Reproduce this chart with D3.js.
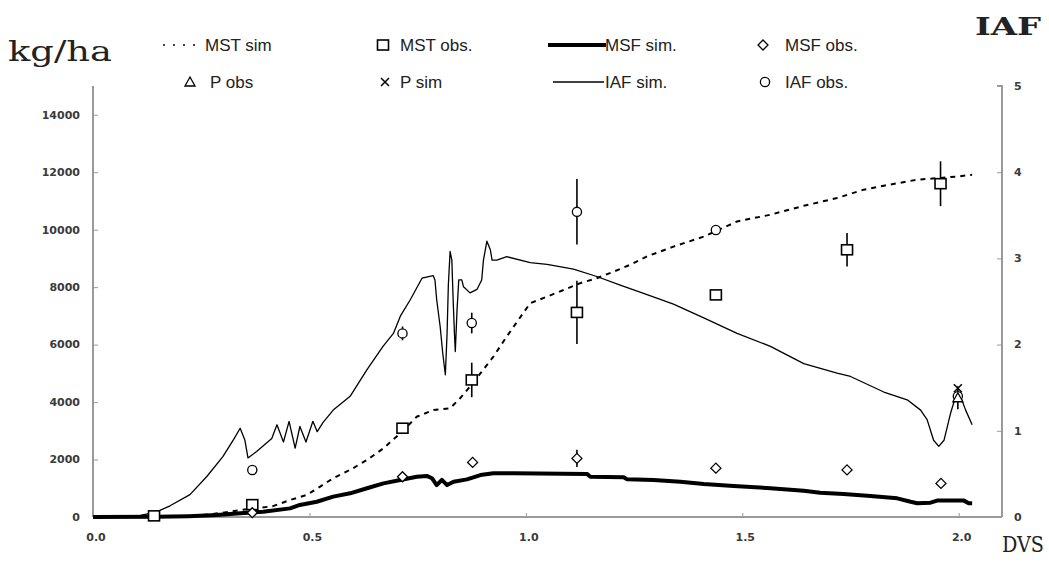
<!DOCTYPE html>
<html>
<head>
<meta charset="utf-8">
<script src="https://cdn.jsdelivr.net/npm/d3@7"></script>
<style>
  html, body { margin: 0; padding: 0; background: #fff; }
  svg { display: block; }
</style>
</head>
<body>
<svg id="chart" width="1049" height="562"></svg>
<script>
// Simulated shoot dry matter (MST), kg/ha
const mstSimDvs = [0.00, 0.10, 0.20, 0.25, 0.30, 0.34, 0.378, 0.416, 0.455, 0.494, 0.525, 0.555, 0.594, 0.633, 0.671, 0.71, 0.748, 0.787, 0.825, 0.848, 0.871, 0.895, 0.925, 0.95, 0.972, 1.01, 1.049, 1.087, 1.126, 1.164, 1.203, 1.241, 1.28, 1.341, 1.411, 1.488, 1.565, 1.642, 1.719, 1.78, 1.827, 1.904, 1.958, 1.997, 2.031];
const mstSimKg  = [0, 0, 20, 60, 150, 240, 300, 380, 590, 770, 1060, 1350, 1640, 1985, 2390, 2915, 3490, 3725, 3785, 4130, 4540, 5000, 5580, 6150, 6630, 7440, 7670, 7900, 8140, 8310, 8540, 8780, 9070, 9410, 9760, 10285, 10520, 10830, 11100, 11390, 11530, 11740, 11800, 11850, 11910];

// Simulated leaf dry matter (MSF), kg/ha
const msfSimDvs = [0.00, 0.147, 0.22, 0.286, 0.34, 0.393, 0.455, 0.478, 0.517, 0.555, 0.594, 0.633, 0.671, 0.71, 0.748, 0.771, 0.783, 0.794, 0.806, 0.818, 0.833, 0.864, 0.895, 0.925, 0.972, 1.141, 1.149, 1.226, 1.234, 1.295, 1.357, 1.411, 1.48, 1.565, 1.642, 1.68, 1.734, 1.796, 1.858, 1.889, 1.904, 1.935, 1.95, 2.012, 2.023, 2.031];
const msfSimKg  = [0, 10, 30, 70, 130, 185, 300, 420, 530, 710, 825, 1000, 1170, 1290, 1400, 1430, 1350, 1110, 1290, 1110, 1230, 1310, 1460, 1520, 1520, 1500, 1400, 1380, 1310, 1290, 1230, 1150, 1080, 1000, 915, 845, 800, 730, 650, 530, 480, 500, 570, 570, 480, 480];

// Simulated leaf area index (IAF)
const iafSimDvs = [0.00, 0.05, 0.11, 0.147, 0.178, 0.224, 0.263, 0.30, 0.325, 0.34, 0.351, 0.358, 0.378, 0.413, 0.425, 0.44, 0.453, 0.467, 0.478, 0.492, 0.508, 0.518, 0.532, 0.555, 0.594, 0.633, 0.67, 0.694, 0.71, 0.733, 0.76, 0.786, 0.79, 0.794, 0.802, 0.808, 0.814, 0.818, 0.821, 0.825, 0.829, 0.832, 0.835, 0.837, 0.841, 0.845, 0.852, 0.856, 0.871, 0.887, 0.898, 0.902, 0.91, 0.918, 0.922, 0.933, 0.956, 1.01, 1.049, 1.11, 1.164, 1.218, 1.28, 1.341, 1.411, 1.488, 1.565, 1.642, 1.719, 1.75, 1.827, 1.881, 1.912, 1.927, 1.942, 1.954, 1.966, 1.981, 1.993, 2.004, 2.016, 2.031];
const iafSim    = [0, 0.005, 0.02, 0.06, 0.13, 0.26, 0.47, 0.70, 0.90, 1.03, 0.89, 0.685, 0.76, 0.91, 1.07, 0.87, 1.11, 0.80, 1.05, 0.87, 1.11, 0.99, 1.10, 1.24, 1.40, 1.71, 1.98, 2.13, 2.33, 2.52, 2.77, 2.80, 2.75, 2.52, 2.21, 1.90, 1.65, 2.13, 2.70, 3.08, 2.98, 2.52, 2.13, 1.92, 2.40, 2.75, 2.75, 2.67, 2.60, 2.64, 2.75, 2.98, 3.20, 3.10, 2.98, 2.98, 3.02, 2.95, 2.93, 2.875, 2.79, 2.69, 2.58, 2.47, 2.31, 2.13, 1.98, 1.78, 1.67, 1.63, 1.45, 1.36, 1.24, 1.13, 0.89, 0.82, 0.89, 1.20, 1.40, 1.40, 1.24, 1.07];

// Observations (mean and half-range of the error bar)
const mstObsDvs = [0.141, 0.368, 0.715, 0.875, 1.118, 1.439, 1.742, 1.958];
const mstObsKg  = [40, 430, 3090, 4770, 7120, 7730, 9300, 11600];
const mstObsErr = [0, 0, 0, 600, 1100, 0, 580, 780];

const msfObsDvs = [0.368, 0.715, 0.877, 1.118, 1.439, 1.742, 1.959];
const msfObsKg  = [150, 1400, 1900, 2040, 1700, 1640, 1170];
const msfObsErr = [0, 0, 0, 300, 0, 0, 0];

const iafObsDvs = [0.368, 0.715, 0.875, 1.118, 1.439, 1.998];
const iafObs    = [0.545, 2.13, 2.25, 3.54, 3.33, 1.40];
const iafObsErr = [0, 0.08, 0.12, 0.38, 0, 0];

const pObsDvs = [1.998];
const pObsKg  = [4150];
const pObsErr = [400];

const pSimDvs = [1.998];
const pSimKg  = [4480];

// Axis ticks
const kgTicks  = [0, 2000, 4000, 6000, 8000, 10000, 12000, 14000];
const iafTicks = [0, 1, 2, 3, 4, 5];
const dvsTicks = [0, 0.5, 1.0, 1.5, 2.0];

// Legend entries
const legendLabels = ["MST sim", "MST obs.", "MSF sim.", "MSF obs.", "P obs", "P sim", "IAF sim.", "IAF obs."];

const svg = d3.select("#chart");
const plotL = 93, plotR = 1002, plotT = 86, plotB = 517;

const x  = d3.scaleLinear().domain([0, 2.1]).range([plotL, plotR]);
const yK = d3.scaleLinear().domain([0, 15000]).range([plotB, plotT]);
const yI = d3.scaleLinear().domain([0, 5]).range([plotB, plotT]);

const axisColor = "#9a9a9a";
const tickFont = "DejaVu Sans, Verdana, sans-serif";

// Axes
const gl = svg.append("g").attr("transform", `translate(${plotL},0)`)
  .call(d3.axisRight(yK).tickValues(kgTicks).tickSize(5).tickFormat(() => ""));
const gr = svg.append("g").attr("transform", `translate(${plotR},0)`)
  .call(d3.axisLeft(yI).tickValues(iafTicks).tickSize(5).tickFormat(() => ""));
const gb = svg.append("g").attr("transform", `translate(0,${plotB})`)
  .call(d3.axisTop(x).tickValues(dvsTicks.slice(1)).tickSize(4).tickFormat(() => ""));
[gl, gr, gb].forEach(g => {
  g.select(".domain").attr("stroke", axisColor).attr("stroke-width", 2);
  g.selectAll(".tick line").attr("stroke", axisColor).attr("stroke-width", 1);
});
gl.select(".domain").attr("d", `M0,${plotT}V${plotB}`);
gr.select(".domain").attr("d", `M-5,${plotT}H0V${plotB}`);
gb.select(".domain").attr("d", `M${plotL},0H${plotR}`);

// Tick labels
svg.append("g").selectAll("text").data(kgTicks).join("text")
  .attr("x", 80).attr("y", d => yK(d)).attr("dy", "0.35em")
  .attr("text-anchor", "end")
  .attr("font-family", tickFont).attr("font-size", 11).attr("font-weight", "bold")
  .attr("fill", "#3a3a3a").text(d => d);
svg.append("g").selectAll("text").data(iafTicks).join("text")
  .attr("x", 1014).attr("y", d => yI(d)).attr("dy", "0.35em")
  .attr("font-family", tickFont).attr("font-size", 11).attr("font-weight", "bold")
  .attr("fill", "#3a3a3a").text(d => d);
svg.append("g").selectAll("text").data(dvsTicks).join("text")
  .attr("x", d => x(d) + 3).attr("y", 541)
  .attr("text-anchor", "middle")
  .attr("font-family", tickFont).attr("font-size", 11).attr("font-weight", "bold")
  .attr("fill", "#3a3a3a").text(d => d3.format(".1f")(d));

// Axis titles
svg.append("text").attr("x", 8).attr("y", 61)
  .attr("font-family", "DejaVu Serif, serif").attr("font-size", 27)
  .attr("textLength", 104).attr("lengthAdjust", "spacingAndGlyphs")
  .attr("fill", "#222").text("kg/ha");
svg.append("text").attr("x", 975).attr("y", 35)
  .attr("font-family", "DejaVu Serif, serif").attr("font-size", 25).attr("font-weight", "bold")
  .attr("textLength", 66).attr("lengthAdjust", "spacingAndGlyphs")
  .attr("fill", "#222").text("IAF");
svg.append("text").attr("x", 1002).attr("y", 552)
  .attr("font-family", "DejaVu Serif, serif").attr("font-size", 22)
  .attr("textLength", 42).attr("lengthAdjust", "spacingAndGlyphs")
  .attr("fill", "#222").text("DVS");

// Simulated curves
const lineK = (dv, vals) => d3.line().x((d, i) => x(dv[i])).y(d => yK(d))(vals);
const lineI = (dv, vals) => d3.line().x((d, i) => x(dv[i])).y(d => yI(d))(vals);

svg.append("path").attr("d", lineI(iafSimDvs, iafSim))
  .attr("fill", "none").attr("stroke", "#000").attr("stroke-width", 1.3).attr("stroke-linejoin", "round");
svg.append("path").attr("d", lineK(mstSimDvs, mstSimKg))
  .attr("fill", "none").attr("stroke", "#000").attr("stroke-width", 2).attr("stroke-dasharray", "5,5");
svg.append("path").attr("d", lineK(msfSimDvs, msfSimKg))
  .attr("fill", "none").attr("stroke", "#000").attr("stroke-width", 4).attr("stroke-linejoin", "round");

// Markers
function square(g, cx, cy) {
  g.append("rect").attr("x", cx - 5.5).attr("y", cy - 5).attr("width", 11).attr("height", 10)
    .attr("fill", "#fff").attr("stroke", "#000").attr("stroke-width", 1.6);
}
function diamond(g, cx, cy) {
  g.append("path").attr("d", `M${cx},${cy - 5}L${cx + 5},${cy}L${cx},${cy + 5}L${cx - 5},${cy}Z`)
    .attr("fill", "#fff").attr("stroke", "#000").attr("stroke-width", 1.3);
}
function circle(g, cx, cy) {
  g.append("circle").attr("cx", cx).attr("cy", cy).attr("r", 4.6)
    .attr("fill", "#fff").attr("stroke", "#000").attr("stroke-width", 1.3);
}
function triangle(g, cx, cy) {
  g.append("path").attr("d", `M${cx},${cy - 5}L${cx + 5},${cy + 4}L${cx - 5},${cy + 4}Z`)
    .attr("fill", "#fff").attr("stroke", "#000").attr("stroke-width", 1.3);
}
function cross(g, cx, cy) {
  g.append("path").attr("d", `M${cx - 4},${cy - 4}L${cx + 4},${cy + 4}M${cx - 4},${cy + 4}L${cx + 4},${cy - 4}`)
    .attr("stroke", "#000").attr("stroke-width", 1.5);
}
function errBar(g, xs, lo, hi) {
  g.append("line").attr("x1", xs).attr("x2", xs).attr("y1", lo).attr("y2", hi)
    .attr("stroke", "#000").attr("stroke-width", 1.6);
}

const obs = svg.append("g");
mstObsDvs.forEach((d, i) => {
  if (mstObsErr[i] > 0) errBar(obs, x(d), yK(mstObsKg[i] - mstObsErr[i]), yK(mstObsKg[i] + mstObsErr[i]));
});
msfObsDvs.forEach((d, i) => {
  if (msfObsErr[i] > 0) errBar(obs, x(d), yK(msfObsKg[i] - msfObsErr[i]), yK(msfObsKg[i] + msfObsErr[i]));
});
iafObsDvs.forEach((d, i) => {
  if (iafObsErr[i] > 0) errBar(obs, x(d), yI(iafObs[i] - iafObsErr[i]), yI(iafObs[i] + iafObsErr[i]));
});
pObsDvs.forEach((d, i) => {
  if (pObsErr[i] > 0) errBar(obs, x(d), yK(pObsKg[i] - pObsErr[i]), yK(pObsKg[i] + pObsErr[i]));
});
mstObsDvs.forEach((d, i) => square(obs, x(d), yK(mstObsKg[i])));
msfObsDvs.forEach((d, i) => diamond(obs, x(d), yK(msfObsKg[i])));
iafObsDvs.forEach((d, i) => circle(obs, x(d), yI(iafObs[i])));
pObsDvs.forEach((d, i) => triangle(obs, x(d), yK(pObsKg[i])));
pSimDvs.forEach((d, i) => cross(obs, x(d), yK(pSimKg[i])));

// Legend
const lg = svg.append("g");
const legFont = "Liberation Sans Narrow, Arial Narrow, Liberation Sans, sans-serif";
const legText = (tx, ty, s) => lg.append("text").attr("x", tx).attr("y", ty)
  .attr("font-family", legFont).attr("font-size", 17).attr("fill", "#222").text(s);

const r1 = 45, r2 = 82;
lg.append("line").attr("x1", 163).attr("x2", 200).attr("y1", r1).attr("y2", r1)
  .attr("stroke", "#000").attr("stroke-width", 1.6).attr("stroke-dasharray", "2,8");
legText(205, r1 + 6, legendLabels[0]);
square(lg, 383, r1);
legText(400, r1 + 6, legendLabels[1]);
lg.append("line").attr("x1", 548).attr("x2", 606).attr("y1", r1).attr("y2", r1)
  .attr("stroke", "#000").attr("stroke-width", 4);
legText(605, r1 + 6, legendLabels[2]);
diamond(lg, 763, r1);
legText(785, r1 + 6, legendLabels[3]);

triangle(lg, 190, r2);
legText(210, r2 + 6, legendLabels[4]);
cross(lg, 385, r2);
legText(400, r2 + 6, legendLabels[5]);
lg.append("line").attr("x1", 553).attr("x2", 604).attr("y1", r2).attr("y2", r2)
  .attr("stroke", "#000").attr("stroke-width", 1.4);
legText(605, r2 + 6, legendLabels[6]);
circle(lg, 765, r2);
legText(785, r2 + 6, legendLabels[7]);
</script>
</body>
</html>
